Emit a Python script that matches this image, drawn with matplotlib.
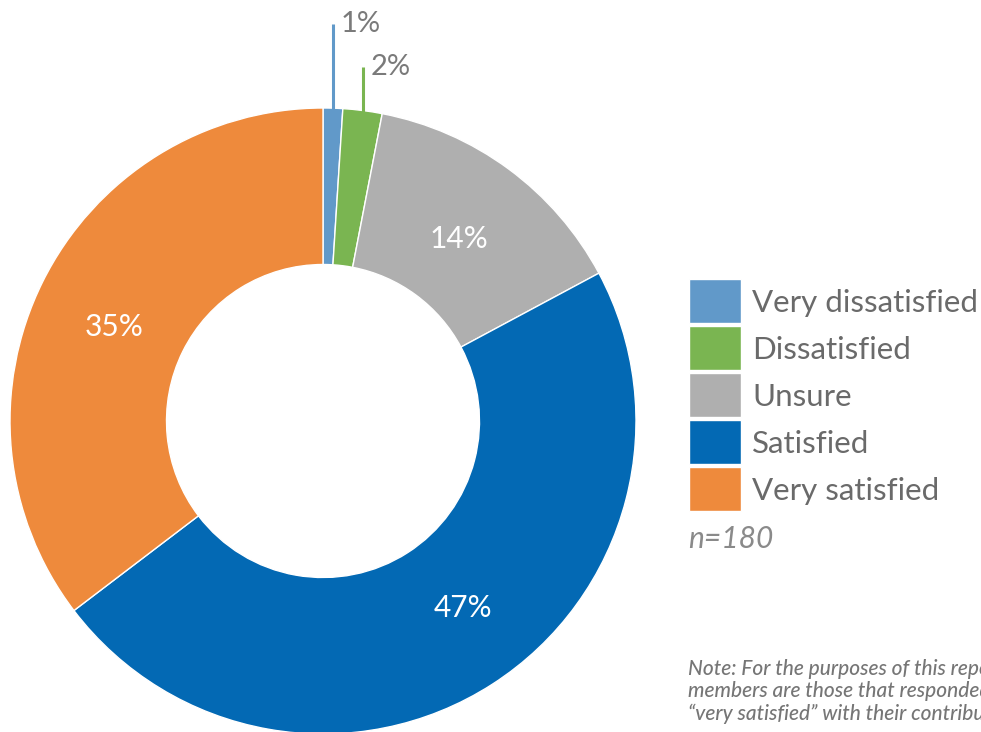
import numpy as np
import matplotlib
matplotlib.use("Agg")
import matplotlib.pyplot as plt
from matplotlib.patches import Rectangle

plt.rcParams['font.family'] = ['Lato', 'DejaVu Sans']

categories = ["Very dissatisfied", "Dissatisfied", "Unsure", "Satisfied", "Very satisfied"]
percents = [1, 2, 14, 47, 35]
colors = ["#6199c9", "#7ab551", "#afafaf", "#0369b4", "#ee8a3c"]
sample_note = "n=180"
footnote = ("Note: For the purposes of this report, satisfied\n"
            "members are those that responded \u201csatisfied\u201d or\n"
            "\u201cvery satisfied\u201d with their contribution.")

W, H = 981, 732
fig = plt.figure(figsize=(W / 100, H / 100), dpi=100)
ax = fig.add_axes([0, 0, 1, 1])

cx, cy, R = 323, H - 421, 313
wedges, _ = ax.pie(percents, colors=colors, startangle=90, counterclock=False,
                   radius=R, center=(cx, cy),
                   wedgeprops=dict(width=R * 0.5, edgecolor="white", linewidth=1))
ax.set_xlim(0, W)
ax.set_ylim(0, H)
ax.set_aspect("equal")
ax.axis("off")

total = sum(percents)
cum = np.cumsum([0] + percents)
label_col = "#7a7a7a"

# labels inside the larger wedges (angle nudge in degrees, radius factor)
inner_place = {2: (0.0, 0.735), 3: (-4.5, 0.74), 4: (-1.5, 0.735)}
for i, (nudge, rf) in inner_place.items():
    mid = (cum[i] + percents[i] / 2) / total * 2 * np.pi + np.radians(nudge)
    r = R * rf
    ax.text(cx + r * np.sin(mid), cy + r * np.cos(mid) - 3, f"{percents[i]}%",
            color="white", fontsize=21.5, ha="center", va="center")

# leader lines and labels for the thin wedges
tops = [H - 24, H - 67]
for i, top in zip((0, 1), tops):
    mid = (cum[i] + percents[i] / 2) / total * 2 * np.pi
    x = cx + R * np.sin(mid)
    y_rim = cy + R * np.cos(mid)
    ax.plot([x, x], [y_rim - 2, top], color=colors[i], lw=2.2, solid_capstyle="butt")
    ax.text(x + 8, top, f"{percents[i]}%", color=label_col, fontsize=21,
            ha="left", va="center")

# legend
lx, lw_, lh, step = 689, 52, 44, 47
ly0 = H - 279
for k, (name, c) in enumerate(zip(categories, colors)):
    top = ly0 - k * step
    ax.add_patch(Rectangle((lx, top - lh), lw_, lh, facecolor=c, edgecolor="white", lw=1))
    ax.text(lx + 63, top - lh / 2 - 2, name, color="#6a6a6a", fontsize=22.5,
            ha="left", va="center")

ax.text(lx - 1, H - 539, sample_note, color="#8a8a8a", fontsize=21.5,
        fontstyle="italic", ha="left", va="center")

ax.text(lx - 1, H - 659, footnote, color="#767676", fontsize=15,
        fontstyle="italic", fontweight="medium", ha="left", va="top",
        linespacing=1.12)

fig.savefig("out.png", dpi=100)
